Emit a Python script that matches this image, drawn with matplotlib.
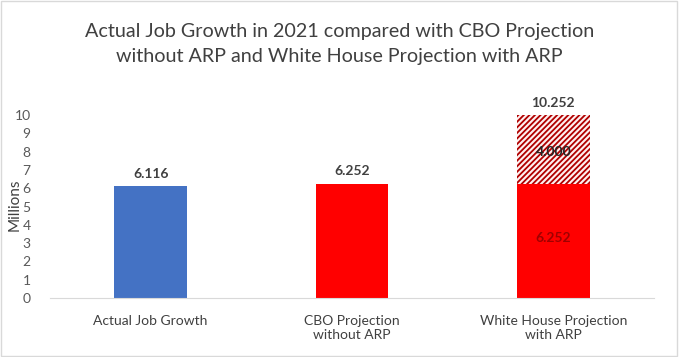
import matplotlib
matplotlib.use("Agg")
import matplotlib.pyplot as plt
from matplotlib.patches import Rectangle

plt.rcParams['font.family'] = ['Lato', 'DejaVu Sans']
plt.rcParams['hatch.linewidth'] = 1.3

categories = ["Actual Job Growth", "CBO Projection\nwithout ARP", "White House Projection\nwith ARP"]
base_values = [6.116, 6.252, 6.252]
extra_values = [0, 0, 4.000]
base_colors = ["#4472C4", "#FF0000", "#FF0000"]
yticks = list(range(0, 11))

fig = plt.figure(figsize=(6.79, 3.57), dpi=100)
ax = fig.add_axes([50/679, 1 - 298/357, 604/679, 183/357])

x = list(range(len(categories)))
w = 0.36
ax.bar(x, base_values, width=w, color=base_colors, zorder=2)
ax.bar([2], [extra_values[2]], bottom=[base_values[2]], width=w, color="#FFF0F0",
       edgecolor="#B00000", hatch="//////", linewidth=0, zorder=2)

ax.set_ylim(0, 10)
ax.set_xlim(-0.5, 2.5)
ax.set_yticks(yticks)
ax.tick_params(axis='y', length=0, labelsize=10, colors="#595959", pad=14)
ax.tick_params(axis='x', length=0, labelsize=10, colors="#404040", pad=12)
ax.set_xticks(x)
ax.set_xticklabels(categories)
for s in ['top', 'right', 'left']:
    ax.spines[s].set_visible(False)
ax.spines['bottom'].set_color("#D9D9D9")
fig.text(15/679, 1 - 205/357, "Millions", rotation=90, ha='center', va='center',
         fontsize=11, color="#404040")

# data labels
for i in range(2):
    ax.text(x[i], base_values[i] + 0.35, f"{base_values[i]:.3f}", ha='center', va='bottom',
            fontsize=10, fontweight='bold', color="#404040")
total = base_values[2] + extra_values[2]
ax.text(x[2], 10 + 0.35, f"{total:.3f}", ha='center', va='bottom', fontsize=10,
        fontweight='bold', color="#404040", clip_on=False)
ax.text(x[2], base_values[2] + (10 - base_values[2]) / 2 - 0.15, f"{extra_values[2]:.3f}",
        ha='center', va='center', fontsize=10, fontweight='bold', color="#262626")
ax.text(x[2], base_values[2] / 2 + 0.15, f"{base_values[2]:.3f}", ha='center', va='center',
        fontsize=10, fontweight='bold', color="#A00000")

fig.text(0.5, 1 - 44/357, "Actual Job Growth in 2021 compared with CBO Projection\nwithout ARP and White House Projection with ARP",
         ha='center', va='center', fontsize=14.2, color="#404040", linespacing=1.55)

fig.patches.append(Rectangle((0.002, 0.003), 0.995, 0.994, transform=fig.transFigure,
                             fill=False, edgecolor="#D9D9D9", linewidth=1))

fig.savefig("out.png", dpi=100)
